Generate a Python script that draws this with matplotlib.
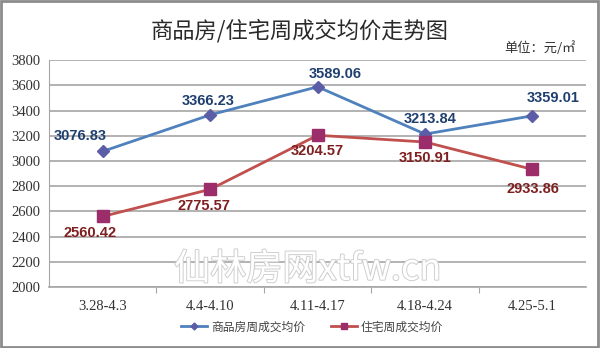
import matplotlib.pyplot as plt
import matplotlib.patheffects as pe
from matplotlib.patches import Rectangle
from matplotlib.lines import Line2D

plt.rcParams['font.family'] = ['Noto Sans CJK SC', 'DejaVu Sans']

# Data
weeks = ['3.28-4.3', '4.4-4.10', '4.11-4.17', '4.18-4.24', '4.25-5.1']
commercial = [3076.83, 3366.23, 3589.06, 3213.84, 3359.01]
residential = [2560.42, 2775.57, 3204.57, 3150.91, 2933.86]
yticks = [2000, 2200, 2400, 2600, 2800, 3000, 3200, 3400, 3600, 3800]

# label offsets in pixels (dx, dy)
com_off = [(-23, 15), (-2, 14), (18, 13), (5, 15), (21, 18)]
res_off = [(-13, -17), (-6, -17), (0, -16), (0, -16), (0, -20)]

fig = plt.figure(figsize=(6, 3.48), dpi=100)
ax = fig.add_axes([0.0817, 0.175, 0.8953, 0.652])

x = list(range(len(weeks)))
ax.plot(x, commercial, color='#4F81BD', lw=2, marker='D', ms=6,
        mfc='#5B5EA6', mec='#5B5EA6', zorder=3)
ax.plot(x, residential, color='#C0504D', lw=2, marker='s', ms=8,
        mfc='#9B2D6B', mec='#9B2D6B', zorder=3)

for xi, v, (dx, dy) in zip(x, commercial, com_off):
    ax.annotate(f'{v:.2f}', (xi, v), xytext=(dx, dy), textcoords='offset pixels',
                ha='center', va='center', fontsize=10.5, fontweight='bold',
                color='#1F3F6F', family='Liberation Sans', zorder=4)
for xi, v, (dx, dy) in zip(x, residential, res_off):
    ax.annotate(f'{v:.2f}', (xi, v), xytext=(dx, dy), textcoords='offset pixels',
                ha='center', va='center', fontsize=10.5, fontweight='bold',
                color='#7F1F1F', family='Liberation Sans', zorder=4)

ax.set_xlim(-0.5, len(weeks) - 0.5)
ax.set_ylim(2000, 3800)
ax.set_yticks(yticks)
ax.set_yticklabels([str(t) for t in yticks], family='Liberation Serif',
                   fontsize=10.5, color='#333333')
ax.yaxis.grid(True, color='#A6A6A6', lw=1.2)
ax.set_axisbelow(True)
ax.tick_params(axis='y', length=0, pad=6)

ax.set_xticks([i + 0.5 for i in range(len(weeks) - 1)])
ax.set_xticklabels([])
ax.set_xticks(x, minor=True)
ax.set_xticklabels(weeks, minor=True, family='Liberation Serif',
                   fontsize=10.5, color='#333333')
ax.tick_params(axis='x', which='major', length=4, color='#A6A6A6', direction='out')
ax.tick_params(axis='x', which='minor', length=0, pad=9)

for s in ['top', 'right']:
    ax.spines[s].set_visible(False)
ax.spines['left'].set_color('#A6A6A6')
ax.spines['bottom'].set_color('#A6A6A6')
ax.spines['bottom'].set_linewidth(1.2)

fig.text(0.5, 0.912, '商品房/住宅周成交均价走势图', ha='center', va='center',
         fontsize=16, color='#2A2A2A')
fig.text(0.96, 0.862, '单位：元/㎡', ha='right', va='center',
         fontsize=9.5, color='#333333')

wm = fig.text(0.513, 0.225, '仙林房网xtfw.cn', ha='center', va='center',
              fontsize=26, color='white', zorder=5)
wm.set_path_effects([pe.Stroke(linewidth=1.4, foreground='#CFCFCF'), pe.Normal()])

handles = [
    Line2D([], [], color='#4F81BD', lw=2, marker='D', ms=3.5, mfc='#5B5EA6', mec='#5B5EA6'),
    Line2D([], [], color='#C0504D', lw=2, marker='s', ms=4.5, mfc='#9B2D6B', mec='#9B2D6B'),
]
leg = fig.legend(handles, ['商品房周成交均价', '住宅周成交均价'], loc='center',
                 bbox_to_anchor=(0.52, 0.06), ncol=2, frameon=False, fontsize=8.5,
                 handlelength=2.2, columnspacing=2.2, handletextpad=0.3)
for t in leg.get_texts():
    t.set_color('#444444')

fig.patches.append(Rectangle((0.002, 0.003), 0.995, 0.993, transform=fig.transFigure,
                             fill=False, edgecolor='#8C8C8C', lw=2))

fig.savefig('out.png', dpi=100)
